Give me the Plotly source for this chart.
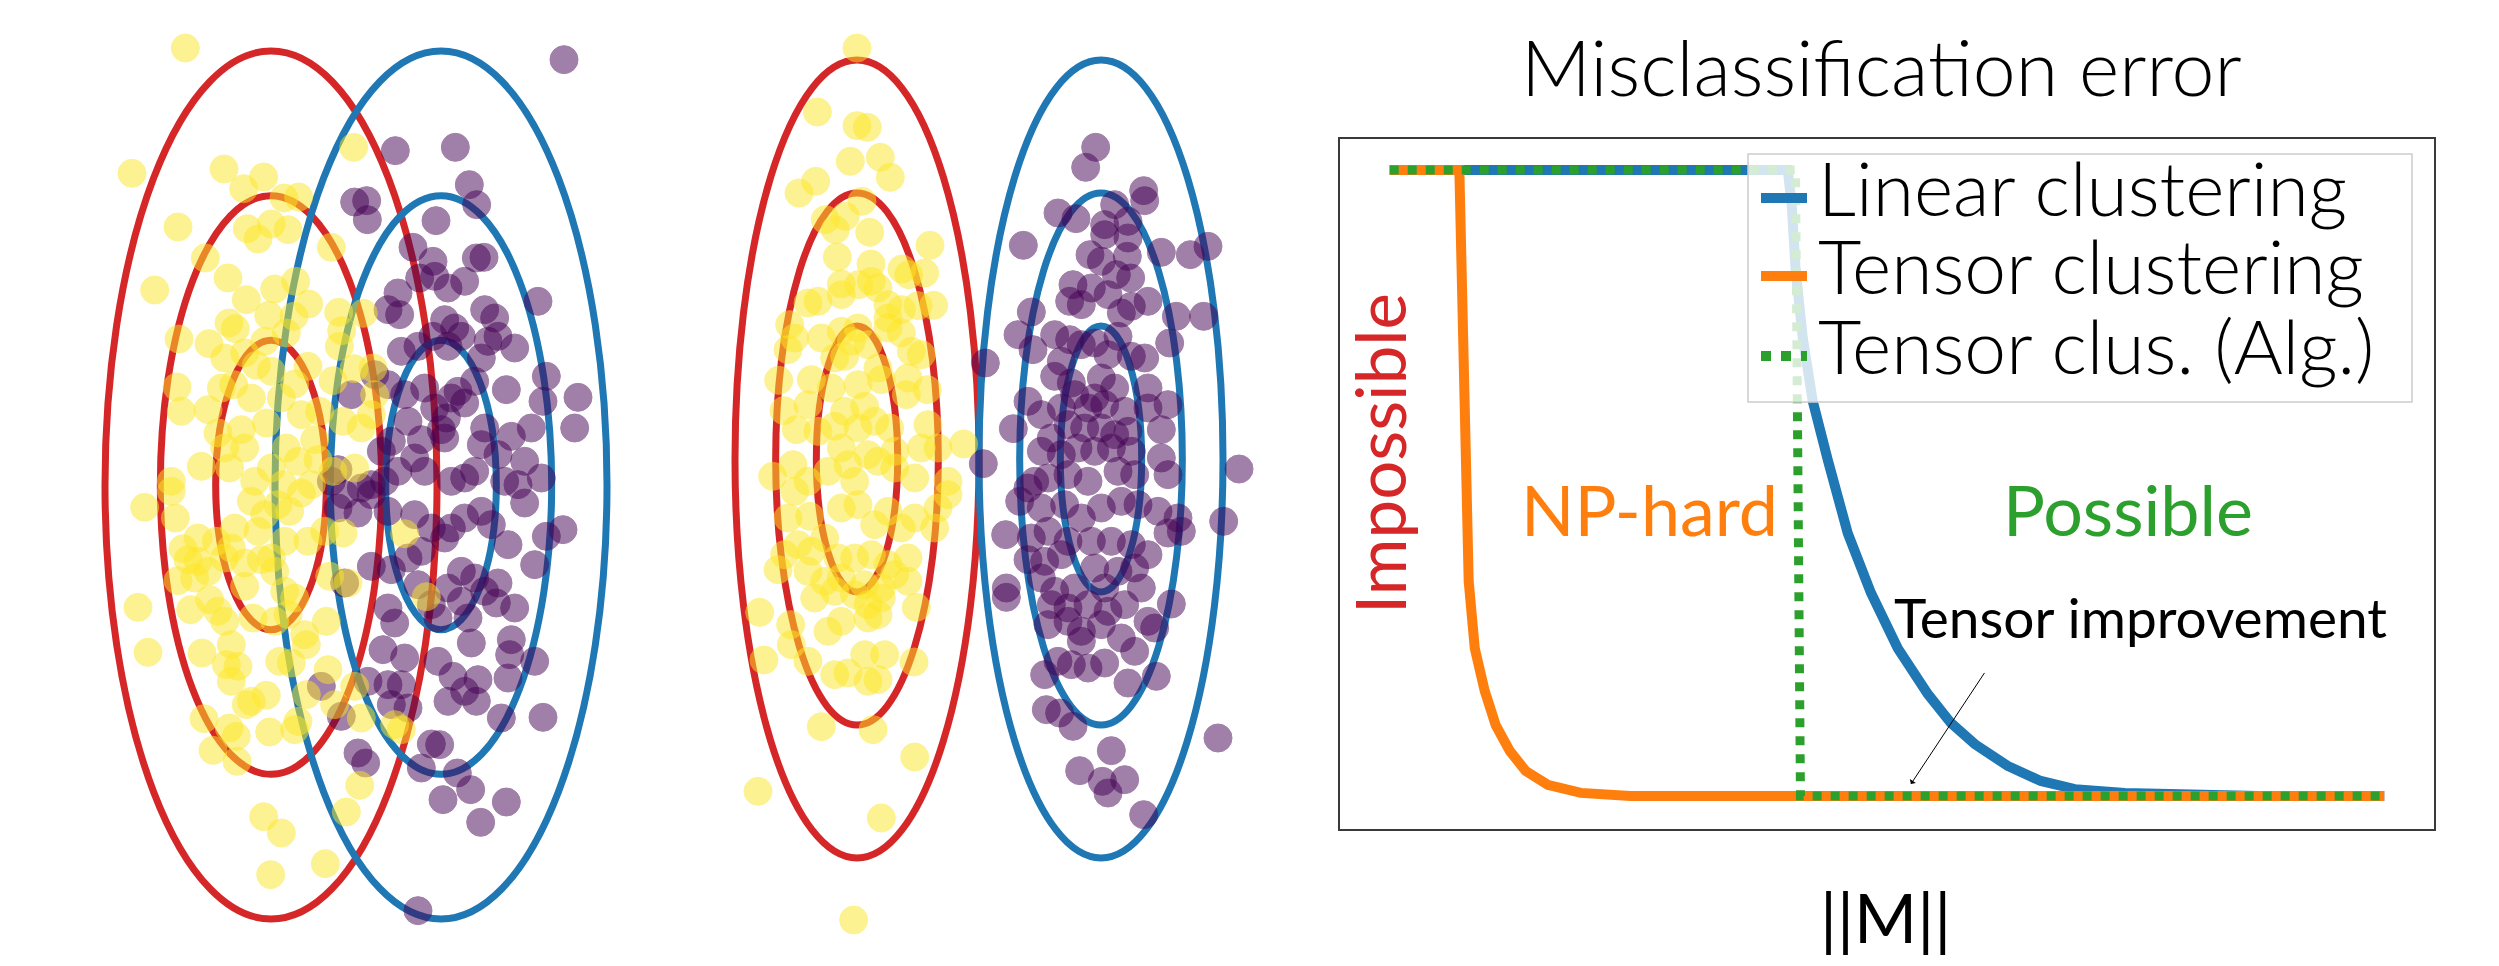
import plotly.graph_objects as go

# ---------------- data: left scatter panel (feature units) ----------------
left_yellow_x = [262,102,378,497,437,558,602,240,448,520,570,480,767,322,700,170,390,530,593,445,632,722,796,512,588,393,412,565,731,243,333,724,500,440,380,630,520,475,237,370,407,590,705,768,825,250,330,460,550,610,665,735,790,830,505,360,430,650,565,380,440,310,395,520,600,660,770,705,220,470,555,640,820,
                 140,232,220,300,255,270,240,290,330,300,355,400,410,460,500,540,575,610,480,560,630,680,735,520,490,440,380,440,530,560,590,120,278,335,360,380,465,530,570,620,625,685,695,750,150,312,400,385,420,545,580,400,690,505,445,460,625,710,790,770,318,394,415,515,600,590,345,417,785,745,497,550,682,518,920,985,890,910]
left_yellow_y = [120,496,483,507,542,570,567,657,662,648,665,693,418,750,718,846,810,843,820,875,888,913,916,922,925,945,962,975,968,993,1007,1015,1000,1035,1050,1075,1090,1072,1137,1140,1130,1128,1118,1082,1080,1210,1205,1170,1170,1220,1210,1240,1260,1160,1245,1275,1265,1295,1320,1320,1320,1375,1380,1380,1360,1355,1380,1390,1420,1420,1430,1430,1220,
                 1498,1530,1450,1590,1622,1655,1718,1710,1690,1660,1600,1620,1560,1480,1520,1490,1510,1455,1570,1600,1600,1570,1575,1650,1655,1665,1650,1735,1690,1750,1770,1798,1805,1775,1810,1840,1830,1840,1820,1880,1910,1840,1705,1725,1933,1935,1910,1970,1975,1960,1965,2020,1985,2062,2090,2080,2060,2090,2130,2035,2132,2160,2185,2172,2140,2165,2227,2260,2332,2412,2426,2475,2567,2600,1577,1766,2150,2165]
left_purple_x = [1398,892,1072,1114,1136,770,806,808,1014,945,1005,1135,1158,965,1010,1100,900,870,905,1050,1320,1160,1190,1040,1070,1005,1090,1250,1170,1200,910,960,1050,1150,1345,1440,1335,1430,1225,1130,1080,1060,1100,980,920,870,830,760,1010,1045,1160,1240,1300,1040,1030,930,880,970,850,1150,1200,1280,1330,1130,1100,1060,950,900,980,860,820,790,1220,1260,720,700,
                 720,780,740,820,870,950,1000,1060,1100,1150,1180,1230,1280,1345,1395,1310,820,880,930,970,1040,1090,1130,1200,1160,1250,1195,1050,1090,870,890,1000,960,1020,1110,1120,1240,1310,1230,1235,855,920,1020,1065,1100,1140,1050,1135,1210,1335,810,870,910,880,930,730,670,780,803,1000,1025,970,1078,1118,1035,1225,1148,960,740]
left_purple_y = [155,428,418,530,590,582,578,635,638,718,760,750,748,810,805,820,855,905,920,840,880,905,930,935,960,985,985,1020,1000,985,1030,1015,1015,1050,1105,1168,1180,1260,1145,1120,1150,1170,1185,1140,1160,1130,1100,1160,1200,1230,1260,1285,1260,1290,1265,1240,1300,1295,1330,1310,1340,1360,1410,1390,1410,1420,1350,1390,1390,1420,1430,1440,1420,1430,1385,1420,
                 1500,1515,1460,1460,1510,1520,1560,1560,1530,1510,1550,1610,1485,1585,1565,1670,1675,1685,1650,1630,1590,1690,1710,1725,1750,1800,1785,1740,1780,1800,1845,1790,1730,1830,1830,1905,1895,1960,2010,1940,1925,1950,1960,2005,2050,2015,2080,2080,2130,2128,2020,2030,2030,2090,2100,2125,2035,2235,2265,2208,2210,2280,2295,2345,2375,2382,2443,2708,1725]

# ---------------- data: middle scatter panel (feature units) ----------------
mid_yellow_x = [447,328,447,478,427,517,547,323,273,462,352,412,382,485,666,388,489,582,602,650,400,452,490,510,300,330,400,540,540,580,677,630,245,260,240,340,400,450,540,580,430,480,410,610,640,380,510,600,212,310,370,450,520,658,228,300,410,470,595,660,265,330,380,450,500,545,767,400,480,560,640,690,194,255,300,360,420,510,560,620,720,440,
                240,305,350,400,450,500,540,580,620,680,230,270,310,390,440,490,540,600,210,300,350,400,470,520,560,600,320,380,440,480,520,625,155,248,360,400,480,510,250,300,380,420,470,530,618,168,480,510,340,495,620,150,520,437,690,720,260]
mid_yellow_y = [120,312,353,358,460,448,508,520,555,580,635,625,665,673,712,747,768,783,800,795,828,830,820,840,885,880,860,890,930,905,892,893,950,990,1025,990,970,960,960,975,1000,1010,1045,1030,1040,1050,1080,1110,1117,1115,1140,1130,1115,1145,1208,1190,1210,1195,1160,1250,1265,1270,1255,1260,1240,1260,1308,1320,1340,1330,1320,1320,1405,1370,1420,1390,1370,1360,1380,1410,1420,1420,
                1530,1525,1590,1500,1490,1550,1510,1560,1530,1560,1640,1610,1630,1650,1650,1640,1670,1650,1685,1690,1720,1710,1730,1740,1700,1720,1770,1750,1760,1790,1770,1798,1813,1850,1870,1840,1830,1820,1910,1960,2000,1995,1940,1940,1962,1956,2020,2015,2156,2165,2247,2350,2430,2736,1500,1460,1450]
mid_purple_x = [1163,1133,1307,1310,1050,1104,1220,1190,1260,946,1190,1260,1146,1180,1258,1360,1447,1500,1268,1225,1095,1150,1200,1085,1120,1320,1270,1240,1405,1487,970,930,975,1040,1085,1120,1160,1230,1270,1385,1310,1060,1200,832,1040,1090,1180,1220,1320,1100,1160,960,1000,1060,1140,1190,1250,1320,1380,916,1030,1080,1130,1180,1220,1260,1360,826,1000,1060,1110,1160,1210,1270,1360,1020,980,1080,1140,1230,1280,1380,960,
                935,1000,1070,1120,1180,1240,1290,1350,1410,1420,1380,1547,893,970,1020,1080,1150,1210,1270,1320,960,1010,1060,1160,1230,1280,1000,895,895,1040,1100,1190,1300,1030,1080,1140,1200,1250,1390,1020,1080,1120,1180,1240,1280,1340,1320,1120,1050,1090,1140,1190,1010,1260,1345,1015,1055,1095,1210,1115,1183,1250,1200,1307,1530,1593]
mid_purple_y = [418,478,548,578,615,632,590,650,640,712,680,690,740,760,745,733,740,715,810,800,830,840,860,880,890,880,895,915,925,925,912,980,1025,980,995,1010,1005,985,1045,1005,1050,1060,1040,1065,1105,1125,1110,1140,1140,1160,1170,1180,1220,1200,1200,1190,1210,1200,1190,1262,1290,1250,1260,1260,1280,1270,1265,1367,1330,1340,1320,1330,1320,1330,1350,1410,1420,1400,1420,1390,1400,1400,1440,
                1480,1500,1490,1530,1500,1480,1490,1510,1530,1570,1575,1540,1580,1590,1570,1600,1600,1600,1610,1640,1655,1660,1640,1680,1690,1680,1710,1740,1768,1750,1740,1740,1740,1790,1800,1790,1810,1790,1788,1850,1840,1870,1850,1890,1930,1860,1840,1900,1960,1970,1980,1965,2000,2025,2005,2105,2115,2155,2228,2288,2320,2315,2355,2420,2190,1383]

# Gaussian contour parameters (centers, std-devs, contour levels)
left_centers = {"red": (519, 1431), "blue": (1029, 1431)}
left_sigma = (166, 434)
mid_centers = {"red": (447, 1353), "blue": (1179, 1353)}
mid_sigma = (122, 399)
levels = [1, 2, 3]

# ---------------- data: misclassification error curves ----------------
linear_x = [0, 4.002, 4.042, 4.082, 4.153, 4.253, 4.404, 4.605, 4.837, 5.108, 5.410, 5.641, 5.882, 6.214, 6.546, 6.888, 7.391, 7.893, 8.728, 10]
linear_y = [1, 1, 0.944, 0.839, 0.732, 0.631, 0.537, 0.420, 0.325, 0.236, 0.163, 0.117, 0.083, 0.048, 0.024, 0.011, 0.005, 0.002, 0, 0]
tensor_x = [0, 0.70, 0.794, 0.855, 0.955, 1.066, 1.207, 1.367, 1.589, 1.921, 2.42, 10]
tensor_y = [1, 1, 0.343, 0.236, 0.168, 0.113, 0.072, 0.040, 0.018, 0.005, 0, 0]
alg_x = [0, 4.08, 4.13, 10]
alg_y = [1, 1, 0, 0]
series_names = ["Linear clustering", "Tensor clustering", "Tensor clus. (Alg.)"]

YELLOW = "#fde725"
PURPLE = "#440154"
RED = "#d62728"
BLUE = "#1f77b4"
ORANGE = "#ff7f0e"
GREEN = "#2ca02c"
FONT = "Lato"

W, H = 2499, 966
fig = go.Figure()

def pts(x, y, color, xa, ya):
    return go.Scatter(x=x, y=y, mode="markers", xaxis=xa, yaxis=ya, cliponaxis=False,
                      marker=dict(size=28, color=color, opacity=0.5, line=dict(width=1, color=color)),
                      showlegend=False, hoverinfo="skip")

fig.add_trace(pts(left_purple_x, left_purple_y, PURPLE, "x", "y"))
fig.add_trace(pts(left_yellow_x, left_yellow_y, YELLOW, "x", "y"))
fig.add_trace(pts(mid_purple_x, mid_purple_y, PURPLE, "x2", "y2"))
fig.add_trace(pts(mid_yellow_x, mid_yellow_y, YELLOW, "x2", "y2"))

fig.add_trace(go.Scatter(x=linear_x, y=linear_y, mode="lines", xaxis="x3", yaxis="y3", name=series_names[0],
                         line=dict(color=BLUE, width=10), showlegend=False))
fig.add_trace(go.Scatter(x=tensor_x, y=tensor_y, mode="lines", xaxis="x3", yaxis="y3", name=series_names[1],
                         line=dict(color=ORANGE, width=10), showlegend=False))
fig.add_trace(go.Scatter(x=alg_x, y=alg_y, mode="lines", xaxis="x3", yaxis="y3", name=series_names[2],
                         line=dict(color=GREEN, width=9, dash="dot"), showlegend=False))

shapes = []
for centers, sig, xr, yr in [(left_centers, left_sigma, "x", "y"), (mid_centers, mid_sigma, "x2", "y2")]:
    for cname, (cx, cy) in centers.items():
        col = RED if cname == "red" else BLUE
        for k in levels:
            shapes.append(dict(type="circle", xref=xr, yref=yr,
                               x0=cx - k * sig[0], x1=cx + k * sig[0],
                               y0=cy - k * sig[1], y1=cy + k * sig[1],
                               line=dict(color=col, width=7), layer="below"))

def px(xp):
    return xp / W

def py(yp):
    return 1 - yp / H

# manual legend box
shapes.append(dict(type="rect", xref="paper", yref="paper", x0=px(1740), x1=px(2404), y0=py(394), y1=py(146),
                   line=dict(color="#cccccc", width=1.5), fillcolor="rgba(255,255,255,0.8)", layer="above"))
leg_rows = [(190, BLUE, "solid"), (268, ORANGE, "solid"), (348, GREEN, "dot")]
annotations = []
for (yy, col, dash), name in zip(leg_rows, series_names):
    shapes.append(dict(type="line", xref="paper", yref="paper", x0=px(1753), x1=px(1799), y0=py(yy), y1=py(yy),
                       line=dict(color=col, width=10, dash=dash), layer="above"))
    annotations.append(dict(x=px(1808), y=py(yy - 11), xref="paper", yref="paper", text=name, showarrow=False,
                            xanchor="left", yanchor="middle",
                            font=dict(family=FONT, size=75, color="black", weight=300)))

annotations += [
    dict(x=px(1873), y=py(58), xref="paper", yref="paper", text="Misclassification error", showarrow=False,
         xanchor="center", yanchor="middle", font=dict(family=FONT, size=77, color="black", weight=300)),
    dict(x=px(1371), y=py(446), xref="paper", yref="paper", text="Impossible", showarrow=False, textangle=-90,
         xanchor="center", yanchor="middle", font=dict(family=FONT, size=69, color=RED)),
    dict(x=px(1641), y=py(501), xref="paper", yref="paper", text="NP-hard", showarrow=False,
         xanchor="center", yanchor="middle", font=dict(family=FONT, size=70, color=ORANGE)),
    dict(x=px(2120), y=py(501), xref="paper", yref="paper", text="Possible", showarrow=False,
         xanchor="center", yanchor="middle", font=dict(family=FONT, size=70, color=GREEN)),
    dict(x=px(2132), y=py(609), xref="paper", yref="paper", text="Tensor improvement", showarrow=False,
         xanchor="center", yanchor="middle", font=dict(family=FONT, size=55, color="black")),
    dict(x=5.24, y=0.019, xref="x3", yref="y3", ax=5.99, ay=0.199, axref="x3", ayref="y3", text="",
         showarrow=True, arrowhead=1, arrowsize=1.2, arrowwidth=1, arrowcolor="black"),
    dict(x=px(1877), y=py(908), xref="paper", yref="paper", text="||M||", showarrow=False,
         xanchor="center", yanchor="middle", font=dict(family=FONT, size=68, color="black")),
]

hidden = dict(visible=False, showgrid=False, zeroline=False)
fig.update_layout(
    width=W, height=H, margin=dict(l=0, r=0, t=0, b=0),
    paper_bgcolor="white", plot_bgcolor="white", showlegend=False,
    xaxis=dict(domain=[px(60), px(630)], range=[-90, 1620], **hidden),
    yaxis=dict(domain=[0, 1], range=[2898, 0], **hidden),
    xaxis2=dict(domain=[px(680), px(1280)], range=[-60, 1740], anchor="y2", **hidden),
    yaxis2=dict(domain=[0, 1], range=[2898, 0], anchor="x2", **hidden),
    xaxis3=dict(domain=[px(1332), px(2426)], range=[-0.5, 10.5], anchor="y3", showgrid=False, zeroline=False,
                showticklabels=False, ticks="", showline=True, mirror=True, linecolor="#3a3a3a", linewidth=2),
    yaxis3=dict(domain=[py(821), py(131)], range=[-0.0527, 1.0495], anchor="x3", showgrid=False, zeroline=False,
                showticklabels=False, ticks="", showline=True, mirror=True, linecolor="#3a3a3a", linewidth=2),
    shapes=shapes, annotations=annotations,
)

fig.write_html("out.html")
